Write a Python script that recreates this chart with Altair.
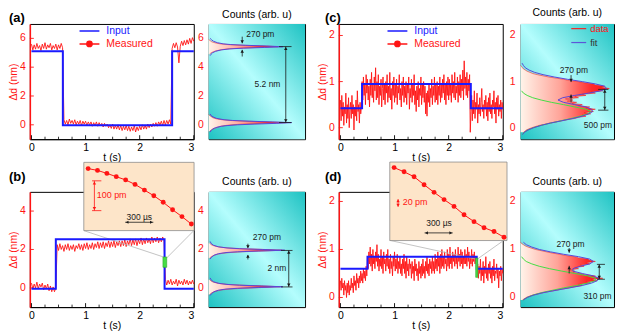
import altair as alt
import pandas as pd

FONT = "Liberation Sans"
RED = "#ff1414"
BLUE = "#1a1aff"
FITC = "#5b46d6"
GREEN = "#45dd45"
PEACH = "#fde5c9"
DARK = "#1a1a1a"

# ---------------- time traces ----------------
# panels (a),(b): sampled every 25 ms ; panels (c),(d): every 12.5 ms
T_AB = [round(i * 0.025, 4) for i in range(121)]
T_CD = [round(i * 0.0125, 4) for i in range(241)]

MEAS_A = [5.6, 5.2, 5.55, 5.25, 5.65, 5.3, 5.5, 5.15, 5.6, 5.3, 5.7, 5.25, 5.55, 5.35, 5.65, 5.2,
          5.5, 5.3, 5.6, 5.2, 5.55, 5.3, 5.65, 5.35,
          0.35, 0.05, 0.3, 0.0, 0.4, 0.1, 0.3, 0.05, 0.35, 0.0, 0.25, 0.05, 0.3, -0.05, 0.25, 0.05,
          0.25, -0.05, 0.2, 0.0, 0.2, -0.1, 0.15, -0.05, 0.2, -0.1, 0.15, -0.05, 0.1, -0.15, 0.1, -0.1,
          0.05, -0.2, 0.0, -0.25, 0.05, -0.3, -0.05, -0.3, 0.0, -0.35, -0.05, -0.4, -0.1, -0.35, -0.05, -0.4,
          -0.1, -0.45, -0.15, -0.4, -0.05, -0.5, -0.15, -0.4, -0.1, -0.35, 0.0, -0.3, -0.05, -0.3, 0.05, -0.2,
          0.05, -0.15, 0.1, -0.1, 0.15, -0.1, 0.2, 0.0, 0.25, -0.05, 0.3, 0.0, 0.3, 0.05, 0.35, 0.05,
          5.3, 5.65, 5.35, 5.7, 5.4, 4.3, 5.45, 5.8, 5.5, 5.85, 5.55, 5.9, 5.6, 6.0, 5.65, 6.05, 5.8]
INPUT_A_T = [0.0, 0.58, 2.6, 3.0]
INPUT_A_V = [5.1, -0.03, 5.1, 5.1]

MEAS_B = [0.25, -0.05, 0.2, 0.0, 0.3, -0.05, 0.2, 0.05, 0.25, -0.1, 0.15, -0.05, 0.2, -0.15, 0.1, -0.2,
          0.05, -0.2, 0.0,
          2.25, 1.95, 2.3, 2.0, 2.2, 1.9, 2.25, 2.0, 2.3, 1.95, 2.2, 2.0, 2.25, 1.9, 2.2, 2.05,
          2.3, 2.0, 2.25, 1.95, 2.3, 2.05, 2.35, 2.0, 2.25, 2.05, 2.35, 2.0, 2.3, 2.1, 2.4, 2.05,
          2.35, 2.1, 2.4, 2.05, 2.35, 2.15, 2.45, 2.1, 2.4, 2.15, 2.45, 2.1, 2.4, 2.2, 2.45, 2.15,
          2.45, 2.2, 2.5, 2.15, 2.45, 2.25, 2.55, 2.2, 2.5, 2.25, 2.55, 2.2, 2.5, 2.3, 2.6, 2.25,
          2.55, 2.3, 2.6, 2.35, 2.55, 2.3, 2.65, 2.35, 2.6, 2.4, 2.65, 2.35, 2.6, 2.4, 2.65, 2.45,
          0.45, 0.15, 0.4, 0.2, 0.45, 0.15, 0.35, 0.2, 0.45, 0.1, 0.4, 0.2, 0.35, 0.15, 0.45, 0.2,
          0.4, 0.15, 0.35, 0.2, 0.4, 0.2]
INPUT_B_T = [0.0, 0.45, 2.46, 3.0]
INPUT_B_V = [-0.05, 2.53, -0.05, -0.05]

MEAS_C = [0.6, 0.15, 0.7, 0.25, 0.55, 0.05, 0.45, 0.3, 0.75, 0.1, 0.5, 0.2, 0.65, 0.0, 0.4, 0.55,
          0.2, 0.7, 0.3, 0.5, -0.05, 0.45, 0.25, 0.6, 0.15, 0.8, 0.35, 0.5, 0.1, 0.55, 0.3, 0.45,
          1.0, 0.6, 1.1, 0.7, 0.95, 0.5, 1.15, 0.75, 1.05, 0.6, 0.9, 0.45, 1.05, 0.7, 1.2, 0.65,
          0.95, 0.55, 1.1, 0.8, 1.3, 0.6, 1.0, 0.65, 1.15, 0.5, 0.9, 0.7, 1.05, 0.45, 0.85, 1.1,
          0.6, 0.95, 0.5, 1.0, 0.75, 1.15, 0.55, 0.9, 0.65, 1.2, 0.6, 0.85, 0.4, 1.0, 0.7, 1.1,
          0.55, 0.95, 0.65, 1.05, 0.5, 0.9, 0.75, 1.15, 0.6, 0.85, 0.45, 1.0, 0.7, 1.1, 0.55, 0.9,
          0.65, 1.0, 0.5, 0.95, 0.75, 1.1, 0.4, 0.85, 0.65, 1.05, 0.55, 0.95, 0.7, 1.15, 0.5, 0.8,
          0.35, 0.9, 0.6, 1.0, 0.45, 0.85, 0.7, 1.1, 0.5, 0.95, 0.65, 1.0, 0.55, 0.9, 0.3, 0.75,
          0.25, 0.8, 0.55, 0.95, 0.45, 0.85, 0.65, 1.05, 0.5, 0.9, 0.7, 1.1, 0.55, 0.95, 0.6, 1.0,
          0.5, 0.9, 0.7, 1.1, 0.55, 0.95, 0.65, 1.05, 0.75, 1.15, 0.6, 0.95, 0.5, 1.0, 0.7, 1.1,
          0.6, 1.05, 0.7, 0.95, 0.55, 1.15, 0.75, 1.0, 0.65, 1.2, 0.6, 0.9, 0.75, 1.1, 0.55, 1.0,
          0.7, 1.15, 0.65, 1.05, 0.8, 1.25, 0.6, 1.45, 0.85, 1.1, 0.7, 1.2, 0.65, 1.05, 0.8, 1.15,
          -0.1, 0.35, 0.7, 0.15, 0.6, 0.3, 0.8, 0.2, 0.55, 0.4, 0.75, 0.1, 0.5, 0.3, 0.65, 0.25,
          0.55, 0.85, 0.35, 0.5, 0.2, 0.6, 0.4, 0.7, 0.25, 0.55, 0.15, 0.65, 0.35, 0.75, 0.3, 0.5,
          0.2, 0.6, 0.45, 0.8, 0.3, 0.55, 0.1, 0.65, 0.4, 0.7, 0.25, 0.5, 0.35, 0.6, 0.2, 0.55, 0.4]
INPUT_C_T = [0.0, 0.4, 2.41, 3.0]
INPUT_C_V = [0.42, 0.95, 0.42, 0.42]

MEAS_D = [0.35, 0.15, 0.4, 0.2, 0.3, 0.05, 0.35, 0.15, 0.25, 0.0, 0.3, 0.1, 0.35, 0.05, 0.25, 0.15,
          0.4, 0.2, 0.3, 0.1, 0.45, 0.25, 0.35, 0.15, 0.5, 0.3, 0.4, 0.2, 0.45, 0.3, 0.55, 0.35,
          0.5, 0.3, 0.6, 0.4, 0.55, 0.35, 0.65, 0.45,
          0.85, 0.6, 0.95, 0.7, 1.05, 0.65, 0.9, 0.55, 1.0, 0.7, 0.85, 0.6, 0.95, 0.75, 1.1, 0.65,
          0.9, 0.55, 0.8, 0.65, 1.0, 0.6, 0.85, 0.5, 0.95, 0.7, 0.8, 0.55, 0.9, 0.65, 1.0, 0.6,
          0.8, 0.5, 0.9, 0.6, 0.75, 0.45, 0.85, 0.65, 0.95, 0.55, 0.8, 0.6, 0.9, 0.5, 0.75, 0.6,
          0.85, 0.5, 0.7, 0.45, 0.8, 0.6, 0.9, 0.5, 0.75, 0.4, 0.85, 0.55, 0.7, 0.45, 0.8, 0.6,
          0.7, 0.4, 0.75, 0.5, 0.65, 0.35, 0.8, 0.55, 0.7, 0.45, 0.6, 0.35, 0.75, 0.5, 0.65, 0.4,
          0.7, 0.45, 0.8, 0.5, 0.65, 0.4, 0.75, 0.55, 0.85, 0.5, 0.7, 0.45, 0.8, 0.6, 0.75, 0.5,
          0.85, 0.55, 0.75, 0.5, 0.9, 0.6, 0.8, 0.55, 0.95, 0.65, 0.85, 0.5, 0.9, 0.6, 1.0, 0.65,
          0.85, 0.6, 0.95, 0.7, 0.8, 0.55, 1.0, 0.65, 0.9, 0.6, 1.05, 0.7, 0.85, 0.6, 0.95, 0.75,
          0.9, 0.65, 1.0, 0.7, 0.85, 0.6, 1.05, 0.75, 0.9, 0.65, 1.0, 0.7, 0.95, 0.6, 0.85, 0.7,
          1.0, 0.7, 0.9, 0.65, 1.05, 0.75, 0.95, 0.6, 0.85, 0.7, 1.0, 0.65, 0.9, 0.75, 0.95, 0.7,
          0.85, 0.75,
          0.45, 0.7, 0.4, 0.65, 0.5, 0.8, 0.35, 0.6, 0.45, 0.75, 0.3, 0.65, 0.5, 0.85, 0.4, 0.6,
          0.35, 0.7, 0.5, 0.75, 0.4, 0.6, 0.3, 0.65, 0.45, 0.8, 0.35, 0.55, 0.5, 0.7, 0.4, 0.6,
          0.2, 0.55, 0.45, 0.65, 0.35, 0.6, 0.5]
INPUT_D_T = [0.0, 0.5, 2.52, 3.0]
INPUT_D_V = [0.6, 0.85, 0.6, 0.6]

for _n, _s, _t in (("A", MEAS_A, T_AB), ("B", MEAS_B, T_AB), ("C", MEAS_C, T_CD), ("D", MEAS_D, T_CD)):
    if len(_s) != len(_t):
        raise ValueError(f"MEAS_{_n} has {len(_s)} values, expected {len(_t)}")

# time-axis tick positions (drawn inward, as in the original)
TICK_MAJOR_T = [0, 1, 2, 3]
TICK_MINOR_T = [0.25, 0.5, 0.75, 1.25, 1.5, 1.75, 2.25, 2.5, 2.75]

# ---------------- zoom insets (time in us, displacement in pm) ----------------
INSET_US = [0, 100, 200, 300, 400, 500, 600, 700, 800, 900, 1000, 1100]
INSET_B_PM = [0, -6, -16, -27, -38, -53, -72, -91, -113, -138, -161, -186]
INSET_D_PM = [0, -11, -24, -45, -65, -84, -102, -124, -142, -158, -168, -183]
INSET_B_YTICKS = [-175, -141, -108, -75, -41, -8]
INSET_D_YTICKS = [-180, -150, -120, -90, -60, -30, 0]

# ---------------- histograms (Δd in nm, counts in arb. u 0-100) ----------------
HIST_A_TOP_V = [4.92, 4.97, 5.02, 5.07, 5.12, 5.17, 5.22, 5.27, 5.32, 5.37, 5.42, 5.47, 5.52, 5.57,
                5.62, 5.67, 5.72, 5.77, 5.82, 5.87, 5.92]
HIST_A_TOP_C = [1, 2, 3, 5, 7, 10, 14, 20, 32, 50, 72, 58, 36, 20, 12, 8, 5, 3, 2, 1, 0]
HIST_A_BOT_V = [-0.45, -0.4, -0.35, -0.3, -0.25, -0.2, -0.15, -0.1, -0.05, 0.0, 0.05, 0.1, 0.15,
                0.2, 0.25, 0.3, 0.35, 0.4, 0.45, 0.5, 0.55, 0.6, 0.65, 0.7]
HIST_A_BOT_C = [1, 2, 3, 4, 6, 8, 10, 13, 17, 24, 35, 55, 80, 62, 38, 22, 14, 9, 6, 4, 3, 2, 1, 0]
FIT_A_TOP_V = [4.8, 4.9, 5.0, 5.1, 5.2, 5.27, 5.32, 5.37, 5.42, 5.47, 5.52, 5.57, 5.62, 5.7, 5.8, 5.9, 6.0]
FIT_A_TOP_C = [1.5, 2.5, 4, 7, 13, 22, 36, 58, 77, 60, 38, 23, 15, 9, 5, 3, 1.5]
FIT_A_BOT_V = [-0.5, -0.4, -0.3, -0.2, -0.1, -0.05, 0.0, 0.05, 0.1, 0.15, 0.2, 0.25, 0.3, 0.35,
               0.45, 0.55, 0.65, 0.75]
FIT_A_BOT_C = [1.5, 2.5, 4, 7, 13, 20, 30, 48, 70, 86, 66, 42, 25, 16, 8, 4.5, 2.5, 1.5]

HIST_B_TOP_V = [1.56, 1.6, 1.64, 1.68, 1.72, 1.76, 1.8, 1.84, 1.88, 1.92, 1.96, 2.0, 2.04, 2.08,
                2.12, 2.16, 2.2, 2.24, 2.28, 2.32]
HIST_B_TOP_C = [1, 2, 3, 5, 7, 10, 14, 22, 35, 55, 76, 58, 35, 20, 12, 8, 5, 3, 2, 1]
HIST_B_BOT_V = [-0.34, -0.3, -0.26, -0.22, -0.18, -0.14, -0.1, -0.06, -0.02, 0.02, 0.06, 0.1, 0.14,
                0.18, 0.22, 0.26, 0.3, 0.34, 0.38, 0.42]
HIST_B_BOT_C = [1, 2, 3, 5, 7, 10, 14, 22, 35, 55, 74, 57, 35, 20, 12, 8, 5, 3, 2, 1]
FIT_B_TOP_V = [1.5, 1.6, 1.7, 1.78, 1.84, 1.88, 1.92, 1.96, 2.0, 2.04, 2.08, 2.14, 2.22, 2.32, 2.42]
FIT_B_TOP_C = [1.5, 3, 5.5, 10, 18, 30, 52, 79, 56, 32, 19, 10, 5, 2.5, 1.5]
FIT_B_BOT_V = [-0.4, -0.3, -0.2, -0.12, -0.06, -0.02, 0.02, 0.06, 0.1, 0.14, 0.18, 0.24, 0.32, 0.42, 0.52]
FIT_B_BOT_C = [1.5, 3, 5.5, 10, 18, 30, 52, 77, 55, 32, 19, 10, 5, 2.5, 1.5]

HIST_C_BIN0 = -0.1
HIST_C_BINW = 0.025
HIST_C_C = [3, 5, 6, 9, 12, 16, 20, 26, 31, 38, 44, 50, 58, 62, 70, 66, 75, 68, 78, 72,
            80, 70, 74, 62, 66, 55, 60, 50, 56, 48, 62, 58, 70, 66, 80, 76, 88, 82, 95, 86,
            90, 80, 78, 68, 62, 52, 46, 38, 30, 24, 18, 13, 10, 7, 5, 3, 2, 1, 0]
FIT_C_V = [-0.15, -0.1, -0.05, 0.0, 0.05, 0.1, 0.15, 0.2, 0.25, 0.3, 0.35, 0.4, 0.45, 0.5, 0.55,
           0.6, 0.65, 0.7, 0.75, 0.8, 0.85, 0.9, 0.95, 1.0, 1.05, 1.1, 1.15, 1.2, 1.25, 1.3, 1.35, 1.4]
FIT_C_C = [2, 4, 8, 14, 22, 32, 44, 56, 66, 73, 77, 76, 70, 58, 46, 40, 45, 58, 73, 86, 92, 90,
           80, 66, 50, 36, 24, 15, 9, 5, 3, 1.5]
COMP_C_V = [-0.15, -0.1, -0.05, 0.0, 0.05, 0.1, 0.15, 0.2, 0.25, 0.3, 0.35, 0.4, 0.45, 0.5, 0.55,
            0.6, 0.65, 0.7, 0.75, 0.8]
COMP_C_C = [2, 4, 8, 14, 22, 32, 43, 54, 64, 72, 75, 70, 58, 46, 33, 22, 13, 7, 3, 1]

HIST_D_BIN0 = -0.05
HIST_D_BINW = 0.025
HIST_D_C = [2, 4, 6, 9, 13, 18, 24, 30, 38, 44, 52, 58, 66, 62, 74, 70, 82, 76, 88, 78,
            80, 68, 64, 56, 58, 52, 62, 58, 68, 64, 74, 70, 80, 74, 72, 62, 58, 48, 42, 34,
            28, 22, 16, 12, 8, 5, 3, 1, 0]
FIT_D_V = [-0.05, 0.0, 0.05, 0.1, 0.15, 0.2, 0.25, 0.3, 0.35, 0.4, 0.45, 0.5, 0.55, 0.6, 0.65,
           0.7, 0.75, 0.8, 0.85, 0.9, 0.95, 1.0, 1.05, 1.1, 1.15]
FIT_D_C = [3, 7, 14, 24, 38, 52, 66, 76, 82, 84, 78, 66, 56, 56, 64, 74, 78, 74, 62, 46, 32, 20, 12, 6, 3]
COMP_D_V = [-0.05, 0.0, 0.05, 0.1, 0.15, 0.2, 0.25, 0.3, 0.35, 0.4, 0.45, 0.5, 0.55, 0.6, 0.65,
            0.7, 0.75, 0.8, 0.85]
COMP_D_C = [3, 7, 13, 22, 34, 46, 60, 72, 80, 80, 72, 58, 44, 31, 20, 12, 6, 3, 1]

# ---------------- annotations ----------------
HA_RULES = [(34.8, 6.12, 34.8, 5.66), (34.8, 4.74, 34.8, 5.2), (80, 0.16, 80, 5.43),
            (73, 5.43, 86, 5.43), (73, 0.16, 86, 0.16)]
HA_HEADS = [(34.8, 5.76, "triangle-down"), (34.8, 5.1, "triangle-up"),
            (80, 5.3, "triangle-up"), (80, 0.29, "triangle-down")]
HA_TEXTS = [(53.6, 6.3, "270 pm"), (61, 2.84, "5.2 nm")]

HB_RULES = [(40.7, 2.3, 40.7, 2.09), (40.7, 1.48, 40.7, 1.7), (83.1, 0.05, 83.1, 1.95),
            (75, 1.95, 87, 1.95), (75, 0.05, 87, 0.05)]
HB_HEADS = [(40.7, 2.14, "triangle-down"), (40.7, 1.65, "triangle-up"),
            (83.1, 1.85, "triangle-up"), (83.1, 0.15, "triangle-down")]
HB_TEXTS = [(60.4, 2.67, "270 pm"), (70.7, 1.02, "2 nm")]

HC_RULES = [(54, 1.14, 54, 0.99), (54, 0.55, 54, 0.72), (90.1, 0.38, 90.1, 0.83),
            (83, 0.83, 94, 0.83), (83, 0.38, 94, 0.38)]
HC_HEADS = [(54, 1.03, "triangle-down"), (54, 0.68, "triangle-up"),
            (90.1, 0.79, "triangle-up"), (90.1, 0.42, "triangle-down")]
HC_TEXTS = [(57.1, 1.25, "270 pm"), (82.7, 0.06, "500 pm")]

HD_RULES = [(52, 1.03, 52, 0.93), (52, 0.5, 52, 0.66), (84.2, 0.38, 84.2, 0.69),
            (81.7, 0.69, 90.3, 0.69), (81.7, 0.38, 90.3, 0.38)]
HD_HEADS = [(52, 0.97, "triangle-down"), (52, 0.62, "triangle-up"),
            (84.2, 0.65, "triangle-up"), (84.2, 0.42, "triangle-down")]
HD_TEXTS = [(53.4, 1.11, "270 pm"), (82.3, 0.035, "310 pm")]

IB_RED_RULES = [(67, -41, 67, -141), (42, -41, 141, -41), (42, -141, 141, -141)]
IB_RED_HEADS = [(67, -48, "triangle-up"), (67, -134, "triangle-down")]
IB_BLK_RULES = [(395, -180, 695, -180)]
IB_BLK_HEADS = [(416, -180, "triangle-left"), (674, -180, "triangle-right")]
IB_RED_TEXT = [(92, -88, "100 pm")]
IB_BLK_TEXT = [(545, -161, "300 µs")]

ID_RED_RULES = [(40, -83, 40, -103)]
ID_RED_HEADS = [(40, -87, "triangle-up"), (40, -99, "triangle-down")]
ID_BLK_RULES = [(305, -171.6, 587, -171.6)]
ID_BLK_HEADS = [(325, -171.6, "triangle-left"), (567, -171.6, "triangle-right")]
ID_RED_TEXT = [(86, -91.4, "20 pm")]
ID_BLK_TEXT = [(449, -146, "300 µs")]

CONN_B = [(0, 0.97, 2.98), (0, 2.44, 1.61), (1, 3.0, 2.98), (1, 2.5, 1.56)]
GREEN_B = [(2.43, 1.07, 2.5, 1.61)]
CONN_D = [(0, 0.91, 1.19), (0, 2.5, 0.8), (1, 3.02, 1.19), (1, 2.53, 0.8)]
GREEN_D = [(2.5, 0.42, 2.54, 0.82)]

# ---------------- layout sizes ----------------
TW, TH = 165, 116
HW_L, HW_R = 97, 94

X_AXIS = dict(values=[0, 1, 2, 3], format="d", title="t (s)", labelFontSize=10.5, titleFontSize=10.5,
              titleFontWeight="normal", labelColor="black", titleColor="black",
              domainColor="black", ticks=False, labelPadding=3, titlePadding=0, grid=False,
              labelOverlap=False)
# y tick labels are drawn as text marks next to the axis (see tick_label_layers)
Y_AXIS = dict(title="Δd (nm)", labels=False, titleFontSize=10.5,
              titleFontWeight="normal", titleColor=RED, domainColor=RED,
              domainWidth=1.5, ticks=False, titlePadding=11, grid=False)

MEAS_SYMBOL = "M-1,0H1M-0.26,0A0.26,0.26,0,1,1,0.26,0A0.26,0.26,0,1,1,-0.26,0Z"


def time_legend(lx, ly):
    return alt.Legend(
        title=None, orient="none", legendX=lx, legendY=ly, direction="vertical",
        symbolSize=400, symbolStrokeWidth=1.6, clipHeight=12.3, rowPadding=0,
        labelOffset=6, padding=0, labelFontSize=10.5, labelFont=FONT,
        labelColor={"expr": f"datum.value === 'Input' ? '{BLUE}' : '{RED}'"},
        symbolType={"expr": f"datum.value === 'Input' ? 'stroke' : '{MEAS_SYMBOL}'"},
        symbolFillColor={"expr": f"datum.value === 'Input' ? 'transparent' : '{RED}'"},
    )


def tick_label_layers(yticks, ys, xpos, inward):
    df = pd.DataFrame({"d": yticks})
    lab = alt.Chart(df).mark_text(align="right", baseline="middle", color=RED, fontSize=10.5,
                                  font=FONT).encode(
        x=alt.value(xpos), y=alt.Y("d:Q", scale=ys), text=alt.Text("d:Q", format="d"))
    out = [lab]
    if inward:
        out.append(alt.Chart(df).mark_rule(color=RED, strokeWidth=0.9).encode(
            y=alt.Y("d:Q", scale=ys), x=alt.value(0), x2=alt.value(4)))
    return out


def ann_layers(rules, heads, texts, sx, sy, color, fsize, align="center", head_size=14, sw=0.8):
    out = []
    X = lambda f: alt.X(f, scale=sx, axis=None)
    Y = lambda f: alt.Y(f, scale=sy, axis=None)
    if rules:
        df = pd.DataFrame(rules, columns=["x1", "y1", "x2", "y2"])
        out.append(alt.Chart(df).mark_rule(color=color, strokeWidth=sw).encode(
            x=X("x1:Q"), x2="x2:Q", y=Y("y1:Q"), y2="y2:Q"))
    if heads:
        df = pd.DataFrame(heads, columns=["x", "y", "s"])
        out.append(alt.Chart(df).mark_point(filled=True, size=head_size, color=color, opacity=1).encode(
            x=X("x:Q"), y=Y("y:Q"), shape=alt.Shape("s:N", scale=None)))
    if texts:
        df = pd.DataFrame(texts, columns=["x", "y", "txt"])
        out.append(alt.Chart(df).mark_text(color=color, fontSize=fsize, align=align,
                                            baseline="middle", font=FONT).encode(
            x=X("x:Q"), y=Y("y:Q"), text="txt:N"))
    return out


def inset_layer(pm, xdom, ydom, xr, yr, yticks, red_rules, red_heads, red_text,
                blk_rules, blk_heads, blk_text):
    sx = alt.Scale(domain=xdom, range=xr, nice=False, zero=False)
    sy = alt.Scale(domain=ydom, range=yr, nice=False, zero=False)
    # inward ticks along the inset's bottom and left edges
    ax_x = alt.Axis(orient="top", offset=-yr[0], values=INSET_US, labels=False, domain=False,
                    tickSize=2.5, tickColor="#9a9a9a", tickWidth=0.8, grid=False, title=None)
    ax_y = alt.Axis(orient="right", offset=-(TW - xr[0]), values=yticks, labels=False, domain=False,
                    tickSize=2.5, tickColor="#9a9a9a", tickWidth=0.8, grid=False, title=None)
    bg = alt.Chart(pd.DataFrame({"x1": [xdom[0]], "x2": [xdom[1]], "y1": [ydom[0]], "y2": [ydom[1]]})).mark_rect(
        fill=PEACH, stroke="#8c8c8c", strokeWidth=0.8).encode(
        x=alt.X("x1:Q", scale=sx, axis=ax_x), x2="x2:Q", y=alt.Y("y1:Q", scale=sy, axis=ax_y), y2="y2:Q")
    df = pd.DataFrame({"us": INSET_US, "pm": pm})
    ln = alt.Chart(df).mark_line(color=RED, strokeWidth=1).encode(
        x=alt.X("us:Q", scale=sx), y=alt.Y("pm:Q", scale=sy))
    pt = alt.Chart(df).mark_circle(color=RED, size=24, opacity=1).encode(
        x=alt.X("us:Q", scale=sx), y=alt.Y("pm:Q", scale=sy))
    layers = [bg, ln, pt]
    layers += ann_layers(red_rules, red_heads, red_text, sx, sy, RED, 9, align="left", head_size=12)
    layers += ann_layers(blk_rules, blk_heads, blk_text, sx, sy, DARK, 8.5, head_size=10)
    return alt.layer(*layers)


def time_panel(t, meas, in_t, in_v, ydom, yticks, label, title_dx=0, title_dy=0, legend=None,
               conn=None, green=None, inset=None):
    xs = alt.Scale(domain=[-0.03, 3.0], nice=False, zero=False)
    ys = alt.Scale(domain=ydom, nice=False, zero=False)
    xe = alt.X("t:Q", scale=xs, axis=alt.Axis(**X_AXIS))
    ye = alt.Y("d:Q", scale=ys, axis=alt.Axis(values=yticks, **Y_AXIS))
    ce = alt.Color("s:N", scale=alt.Scale(domain=["Input", "Measured"], range=[BLUE, RED]),
                   legend=legend)
    m = alt.Chart(pd.DataFrame({"t": t, "d": meas, "s": ["Measured"] * len(t)})).mark_line(
        strokeWidth=0.9).encode(x=xe, y=ye, color=ce)
    i = alt.Chart(pd.DataFrame({"t": in_t, "d": in_v, "s": ["Input"] * len(in_t)})).mark_line(
        interpolate="step-after", strokeWidth=2).encode(x=xe, y=ye, color=ce)
    tk_major = alt.Chart(pd.DataFrame({"t": TICK_MAJOR_T})).mark_rule(color="black", strokeWidth=0.9).encode(
        x=alt.X("t:Q", scale=xs), y=alt.value(TH), y2=alt.value(TH - 4))
    tk_minor = alt.Chart(pd.DataFrame({"t": TICK_MINOR_T})).mark_rule(color="black", strokeWidth=0.8).encode(
        x=alt.X("t:Q", scale=xs), y=alt.value(TH), y2=alt.value(TH - 2.5))
    layers = [m, tk_major, tk_minor] + tick_label_layers(yticks, ys, -4, True)
    if conn:
        cdf = pd.DataFrame(conn, columns=["seg", "t", "d"])
        layers.append(alt.Chart(cdf).mark_line(color="#b4b4b4", strokeWidth=0.8).encode(
            x=alt.X("t:Q", scale=xs), y=alt.Y("d:Q", scale=ys), detail="seg:N"))
    layers.append(i)
    if green:
        gdf = pd.DataFrame(green, columns=["t", "d", "t2", "d2"])
        layers.append(alt.Chart(gdf).mark_rect(fill=GREEN, stroke="#2fa52f", strokeWidth=0.6).encode(
            x=alt.X("t:Q", scale=xs), x2="t2:Q", y=alt.Y("d:Q", scale=ys), y2="d2:Q"))
    base = alt.layer(*layers)
    if inset is not None:
        full = alt.layer(base, inset).resolve_scale(x="independent", y="independent")
    else:
        full = base
    return full.properties(
        width=TW, height=TH,
        title=alt.TitleParams(label, anchor="start", fontSize=13, fontWeight="bold", font=FONT,
                              color="black", offset=2, dx=title_dx, dy=title_dy))


BG_GRAD = alt.LinearGradient(gradient="linear", x1=0, y1=1, x2=1, y2=0, stops=[
    alt.GradientStop(color="#1ec3c3", offset=0), alt.GradientStop(color="#b4fdfd", offset=0.5),
    alt.GradientStop(color="#1ec3c3", offset=1)])
RED_GRAD = alt.LinearGradient(gradient="linear", x1=0, y1=0, x2=1, y2=0, stops=[
    alt.GradientStop(color="#fff4ea", offset=0), alt.GradientStop(color="#ffa398", offset=0.45),
    alt.GradientStop(color="#ff2a2a", offset=0.8), alt.GradientStop(color="#ff1010", offset=1)])


def hist_panel(width, ydom, yticks, hist_parts, fit_parts, comp, rules, heads, texts, legend=None):
    xs = alt.Scale(domain=[0, 100], nice=False, zero=False)
    ys = alt.Scale(domain=ydom, nice=False, zero=False)
    bg = alt.Chart(pd.DataFrame({"k": [0]})).mark_rect(fill=BG_GRAD).encode(
        x=alt.value(0), x2=alt.value("width"), y=alt.value(0), y2=alt.value("height"))
    rows = []
    for p, (vs, cs) in enumerate(hist_parts):
        rows += [(p, v, c, "data") for v, c in zip(vs, cs)]
    hdf = pd.DataFrame(rows, columns=["peak", "v", "c", "s"])
    # top-edge ticks pointing into the panel
    xe = alt.X("c:Q", scale=xs, stack=None,
               axis=alt.Axis(orient="bottom", offset=-TH, labels=False, domain=False, ticks=True,
                             tickSize=2.5, tickColor="#333", values=list(range(0, 101, 10)),
                             title=None, grid=False))
    ye = alt.Y("v:Q", scale=ys,
               axis=alt.Axis(values=yticks, labels=False, title=None,
                             domainColor=RED, domainWidth=1.2, tickColor=RED, tickSize=2.5,
                             grid=False))
    ce = alt.Color("s:N", scale=alt.Scale(domain=["data", "fit"], range=[RED, FITC]), legend=legend)
    area = alt.Chart(hdf).mark_area(orient="horizontal", fill=RED_GRAD, interpolate="linear").encode(
        x=xe, y=ye, detail="peak:N")
    outline = alt.Chart(hdf).mark_line(strokeWidth=0.6, opacity=0.9).encode(
        x=alt.X("c:Q", scale=xs, stack=None), y=alt.Y("v:Q", scale=ys), detail="peak:N",
        order="v:Q", color=ce)
    frows = []
    for p, (vs, cs) in enumerate(fit_parts):
        frows += [(p, v, c, "fit") for v, c in zip(vs, cs)]
    fdf = pd.DataFrame(frows, columns=["peak", "v", "c", "s"])
    layers = [bg, area, outline]
    if comp:
        cdf = pd.DataFrame({"v": comp[0], "c": comp[1]})
        layers.append(alt.Chart(cdf).mark_line(color=GREEN, strokeWidth=1).encode(
            x=alt.X("c:Q", scale=xs), y=alt.Y("v:Q", scale=ys), order="v:Q"))
    layers.append(alt.Chart(fdf).mark_line(strokeWidth=1).encode(
        x=alt.X("c:Q", scale=xs), y=alt.Y("v:Q", scale=ys), detail="peak:N", order="v:Q", color=ce))
    layers += ann_layers(rules, heads, texts, xs, ys, DARK, 8.5, head_size=12)
    layers += tick_label_layers(yticks, ys, -5, False)
    return alt.layer(*layers).properties(
        width=width, height=TH,
        title=alt.TitleParams("Counts (arb. u)", fontSize=10.5, fontWeight="normal", font=FONT,
                              color="black", offset=4, anchor="middle"))


def spacer(w):
    return alt.Chart(pd.DataFrame({"v": [0]})).mark_point(opacity=0).encode(
        x=alt.X("v:Q", axis=None), y=alt.Y("v:Q", axis=None)).properties(
        width=w, height=TH, view=alt.ViewBackground(stroke=None))


def grid_bins(b0, bw, n):
    return [round(b0 + bw * k, 4) for k in range(n)]


a_time = time_panel(T_AB, MEAS_A, INPUT_A_T, INPUT_A_V, [-1, 7], [0, 2, 4, 6], "(a)",
                    title_dx=0, title_dy=3, legend=time_legend(49, 1))
c_time = time_panel(T_CD, MEAS_C, INPUT_C_T, INPUT_C_V, [-0.25, 2.25], [0, 1, 2], "(c)",
                    title_dx=7, title_dy=3, legend=time_legend(48, 1))
b_inset = inset_layer(INSET_B_PM, [-46, 1129], [-208, 21], [54.3, 165.3], [39, -29.7], INSET_B_YTICKS,
                      IB_RED_RULES, IB_RED_HEADS, IB_RED_TEXT, IB_BLK_RULES, IB_BLK_HEADS, IB_BLK_TEXT)
b_time = time_panel(T_AB, MEAS_B, INPUT_B_T, INPUT_B_V, [-1, 5], [0, 2, 4], "(b)",
                    title_dx=0, title_dy=24, conn=CONN_B, green=GREEN_B, inset=b_inset)
d_inset = inset_layer(INSET_D_PM, [-43, 1130], [-191.7, 14.6], [51.3, 169.3], [49, -30], INSET_D_YTICKS,
                      ID_RED_RULES, ID_RED_HEADS, ID_RED_TEXT, ID_BLK_RULES, ID_BLK_HEADS, ID_BLK_TEXT)
d_time = time_panel(T_CD, MEAS_D, INPUT_D_T, INPUT_D_V, [-0.2, 2.2], [0, 1, 2], "(d)",
                    title_dx=7, title_dy=24, conn=CONN_D, green=GREEN_D, inset=d_inset)

a_hist = hist_panel(HW_L, [-1, 7], [0, 2, 4, 6],
                    [(HIST_A_TOP_V, HIST_A_TOP_C), (HIST_A_BOT_V, HIST_A_BOT_C)],
                    [(FIT_A_TOP_V, FIT_A_TOP_C), (FIT_A_BOT_V, FIT_A_BOT_C)], None,
                    HA_RULES, HA_HEADS, HA_TEXTS)
b_hist = hist_panel(HW_L, [-1, 5], [0, 2, 4],
                    [(HIST_B_TOP_V, HIST_B_TOP_C), (HIST_B_BOT_V, HIST_B_BOT_C)],
                    [(FIT_B_TOP_V, FIT_B_TOP_C), (FIT_B_BOT_V, FIT_B_BOT_C)], None,
                    HB_RULES, HB_HEADS, HB_TEXTS)
hist_c_legend = alt.Legend(
    title=None, orient="none", legendX=50, legendY=-2, direction="vertical", symbolSize=225,
    symbolStrokeWidth=1.2, clipHeight=13.4, rowPadding=0, labelOffset=3, padding=0,
    labelFontSize=9.5, labelFont=FONT, symbolType="stroke",
    labelColor={"expr": f"datum.value === 'data' ? '{RED}' : '#333333'"})
c_hist = hist_panel(HW_R, [-0.25, 2.25], [0, 1, 2],
                    [(grid_bins(HIST_C_BIN0, HIST_C_BINW, len(HIST_C_C)), HIST_C_C)],
                    [(FIT_C_V, FIT_C_C)], (COMP_C_V, COMP_C_C),
                    HC_RULES, HC_HEADS, HC_TEXTS, legend=hist_c_legend)
d_hist = hist_panel(HW_R, [-0.2, 2.2], [0, 1, 2],
                    [(grid_bins(HIST_D_BIN0, HIST_D_BINW, len(HIST_D_C)), HIST_D_C)],
                    [(FIT_D_V, FIT_D_C)], (COMP_D_V, COMP_D_C),
                    HD_RULES, HD_HEADS, HD_TEXTS)

chart = alt.concat(
    a_time, spacer(15), a_hist, spacer(34), c_time, spacer(18), c_hist,
    b_time, spacer(15), b_hist, spacer(34), d_time, spacer(18), d_hist,
    columns=7, spacing={"row": 53, "column": 0}, bounds="flush",
).resolve_scale(color="independent").properties(
    padding={"left": 0, "top": -2, "right": 0, "bottom": 0}).configure(
    font=FONT).configure_view(stroke="black", strokeWidth=1)

chart.save("out.html", embed_options={"renderer": "svg", "actions": False})
